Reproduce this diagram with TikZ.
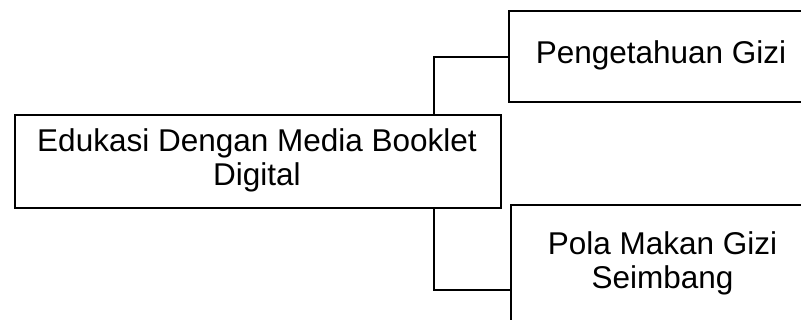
\documentclass[tikz,border=0pt]{standalone}
\usepackage{fontspec}
\setmainfont{Liberation Sans}
\begin{document}
\begin{tikzpicture}[x=1pt,y=-1pt,
  box/.style={draw=black, line width=2.2pt, fill=white, inner sep=0pt, anchor=north west},
  txt/.style={align=center, inner sep=0pt, font=\fontsize{31.5}{34}\selectfont},
  link/.style={draw=black, line width=2.2pt}]
\useasboundingbox (0,0) rectangle (801,320);
\clip (0,0) rectangle (801,320);

% boxes
\node[box, minimum width=486pt, minimum height=93pt] (b1) at (14,114) {};
\node[box, minimum width=306pt, minimum height=91pt] (b2) at (508,10) {};
\node[box, minimum width=306pt, minimum height=126pt] (b3) at (510,204) {};

% labels
\node[txt] (t1) at (257,160) {Edukasi Dengan Media Booklet\\Digital};
\node[txt] (t2) at (661,55) {Pengetahuan Gizi};
\node[txt] (t3) at (662.5,263) {Pola Makan Gizi\\Seimbang};

% connectors
\coordinate (j) at (434,0);
\coordinate (e2) at (508,57);
\coordinate (e3) at (510,290);
\draw[link] (b1.north -| j) |- (e2);
\draw[link] (b1.south -| j) |- (e3);
\end{tikzpicture}
\end{document}
